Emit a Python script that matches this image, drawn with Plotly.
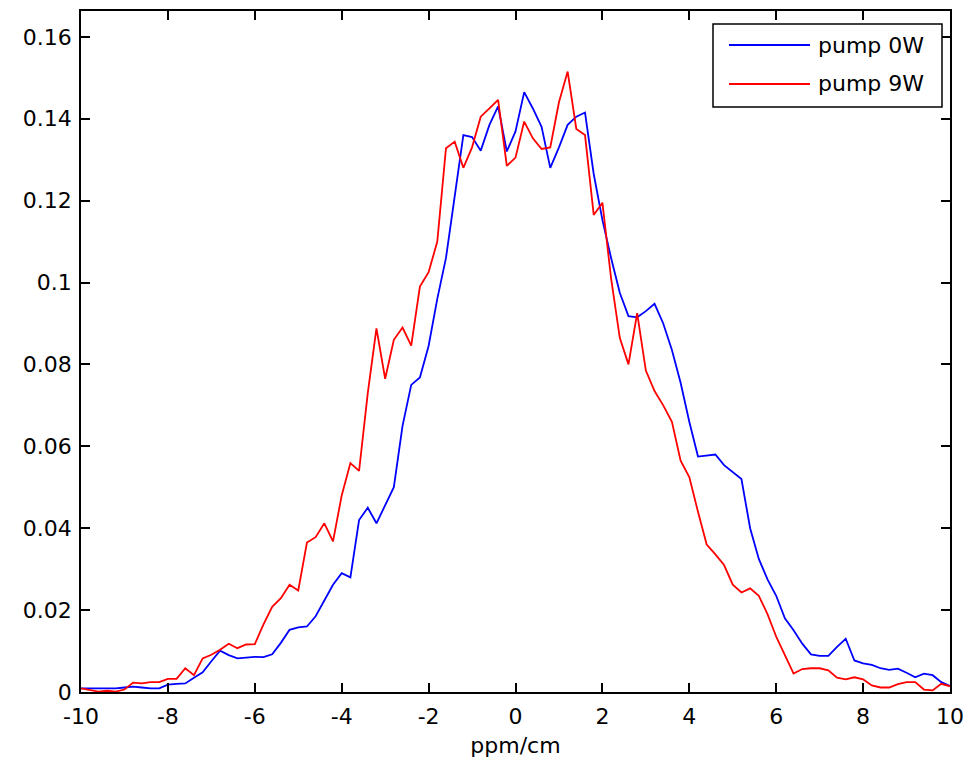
import plotly.graph_objects as go

x_vals = [-10.0, -9.8, -9.6, -9.4, -9.2, -9.0, -8.8, -8.6, -8.4, -8.2,
          -8.0, -7.8, -7.6, -7.4, -7.2, -7.0, -6.8, -6.6, -6.4, -6.2,
          -6.0, -5.8, -5.6, -5.4, -5.2, -5.0, -4.8, -4.6, -4.4, -4.2,
          -4.0, -3.8, -3.6, -3.4, -3.2, -3.0, -2.8, -2.6, -2.4, -2.2,
          -2.0, -1.8, -1.6, -1.4, -1.2, -1.0, -0.8, -0.6, -0.4, -0.2,
          0.0, 0.2, 0.4, 0.6, 0.8, 1.0, 1.2, 1.4, 1.6, 1.8,
          2.0, 2.2, 2.4, 2.6, 2.8, 3.0, 3.2, 3.4, 3.6, 3.8,
          4.0, 4.2, 4.4, 4.6, 4.8, 5.0, 5.2, 5.4, 5.6, 5.8,
          6.0, 6.2, 6.4, 6.6, 6.8, 7.0, 7.2, 7.4, 7.6, 7.8,
          8.0, 8.2, 8.4, 8.6, 8.8, 9.0, 9.2, 9.4, 9.6, 9.8, 10.0]

pump_0w = [0.0009, 0.0009, 0.0009, 0.0009, 0.0009, 0.0011, 0.0013, 0.0011, 0.0009, 0.0009,
           0.0018, 0.0020, 0.0021, 0.0035, 0.0048, 0.0075, 0.0101, 0.0090, 0.0082, 0.0084,
           0.0086, 0.0085, 0.0092, 0.0120, 0.0152, 0.0158, 0.0160, 0.0185, 0.0225, 0.0262,
           0.0290, 0.0280, 0.0420, 0.0450, 0.0412, 0.0457, 0.0500, 0.0650, 0.0750, 0.0768,
           0.0845, 0.0960, 0.1060, 0.1210, 0.1360, 0.1355, 0.1322, 0.1385, 0.1430, 0.1320,
           0.1369, 0.1465, 0.1425, 0.1380, 0.1280, 0.1330, 0.1385, 0.1405, 0.1415, 0.1265,
           0.1153, 0.1060, 0.0975, 0.0918, 0.0915, 0.0930, 0.0948, 0.0900, 0.0835, 0.0755,
           0.0660, 0.0575, 0.0578, 0.0580, 0.0554, 0.0536, 0.0520, 0.0400, 0.0325, 0.0275,
           0.0235, 0.0180, 0.0151, 0.0118, 0.0092, 0.0088, 0.0088, 0.0110, 0.0130, 0.0077,
           0.0070, 0.0066, 0.0058, 0.0054, 0.0057, 0.0047, 0.0036, 0.0045, 0.0041, 0.0024, 0.0015]

pump_9w = [0.0009, 0.0005, 0.0001, 0.0003, 0.0001, 0.0006, 0.0023, 0.0021, 0.0024, 0.0024,
           0.0032, 0.0032, 0.0058, 0.0041, 0.0082, 0.0091, 0.0103, 0.0118, 0.0107, 0.0116,
           0.0117, 0.0165, 0.0208, 0.0229, 0.0262, 0.0248, 0.0365, 0.0378, 0.0412, 0.0368,
           0.0480, 0.0559, 0.0540, 0.0730, 0.0888, 0.0765, 0.0860, 0.0890, 0.0846, 0.0990,
           0.1025, 0.1100, 0.1328, 0.1344, 0.1280, 0.1330, 0.1405, 0.1425, 0.1446, 0.1285,
           0.1305, 0.1393, 0.1352, 0.1326, 0.1330, 0.1440, 0.1515, 0.1375, 0.1360, 0.1165,
           0.1195, 0.1010, 0.0865, 0.0800, 0.0925, 0.0785, 0.0735, 0.0700, 0.0660, 0.0565,
           0.0525, 0.0440, 0.0360, 0.0336, 0.0310, 0.0262, 0.0243, 0.0253, 0.0235, 0.0190,
           0.0135, 0.0090, 0.0045, 0.0056, 0.0058, 0.0058, 0.0053, 0.0035, 0.0031, 0.0036,
           0.0031, 0.0016, 0.0011, 0.0011, 0.0019, 0.0024, 0.0024, 0.0006, 0.0004, 0.0020, 0.0014]

series_names = ["pump 0W", "pump 9W"]
series_colors = ["#0000ff", "#ff0000"]

x_ticks = [-10, -8, -6, -4, -2, 0, 2, 4, 6, 8, 10]
y_ticks = [0, 0.02, 0.04, 0.06, 0.08, 0.10, 0.12, 0.14, 0.16]
y_tick_labels = ["0", "0.02", "0.04", "0.06", "0.08", "0.1", "0.12", "0.14", "0.16"]
x_label = "ppm/cm"

FONT = "DejaVu Sans, Liberation Sans, sans-serif"
FS = 22

fig = go.Figure()
for name, ys, col in zip(series_names, [pump_0w, pump_9w], series_colors):
    fig.add_trace(go.Scatter(x=x_vals, y=ys, mode="lines", name=name,
                             line=dict(color=col, width=1.8), showlegend=False))

axis_common = dict(showline=True, linecolor="black", linewidth=1.5, mirror="allticks",
                   ticks="inside", ticklen=9, tickwidth=1.5, tickcolor="black",
                   showgrid=False, zeroline=False,
                   tickfont=dict(family=FONT, size=FS, color="black"))

fig.update_xaxes(range=[-10, 10], tickvals=x_ticks, ticktext=[str(t) for t in x_ticks],
                 ticklabelstandoff=4,
                 title=dict(text=x_label, font=dict(family=FONT, size=FS, color="black"), standoff=9),
                 **axis_common)
fig.update_yaxes(range=[0, 0.1663], tickvals=y_ticks, ticktext=y_tick_labels,
                 ticklabelstandoff=3, **axis_common)

# Legend box drawn in paper coordinates (MATLAB-style long line samples)
W, H = 979, 766
L, R, T, B = 81, 29, 11, 74
pw, ph = W - L - R, H - T - B

def px(xp):
    return (xp - L) / pw

def py(yp):
    return (H - B - yp) / ph

fig.add_shape(type="rect", xref="paper", yref="paper",
              x0=px(713), x1=px(942), y0=py(107), y1=py(24),
              line=dict(color="black", width=1.5), fillcolor="white", layer="above")
rows = [45, 84]
for name, col, ry in zip(series_names, series_colors, rows):
    fig.add_shape(type="line", xref="paper", yref="paper",
                  x0=px(729), x1=px(810), y0=py(ry), y1=py(ry),
                  line=dict(color=col, width=1.8), layer="above")
    fig.add_annotation(xref="paper", yref="paper", x=px(816), y=py(ry),
                       text=name, showarrow=False, xanchor="left", yanchor="middle",
                       font=dict(family=FONT, size=FS, color="black"))

fig.update_layout(width=W, height=H, margin=dict(l=L, r=R, t=T, b=B, autoexpand=False),
                  plot_bgcolor="white", paper_bgcolor="white", showlegend=False)

fig.write_html("out.html", config={"displayModeBar": False},
               post_script="document.body.style.margin='0';document.body.style.overflow='hidden';")
